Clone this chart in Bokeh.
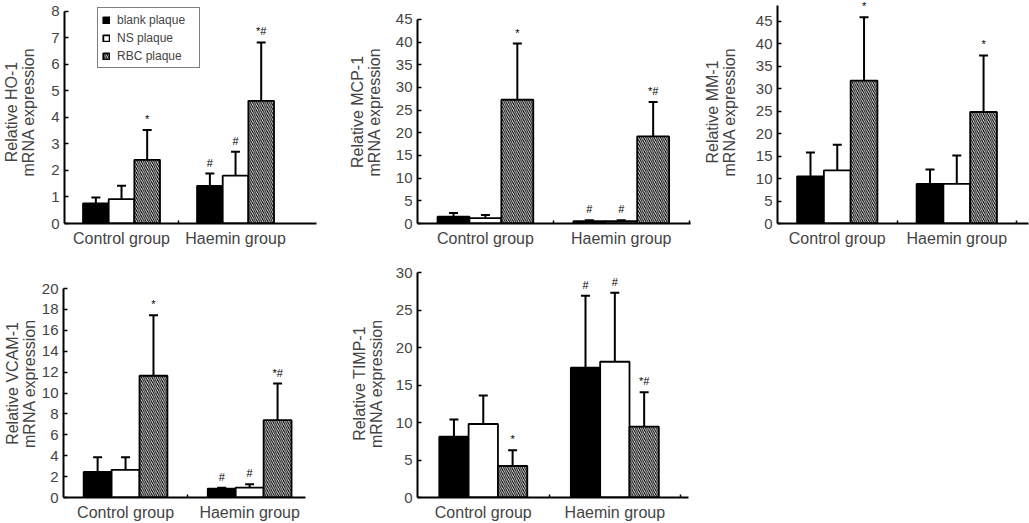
from bokeh.plotting import figure
from bokeh.layouts import column, row
from bokeh.models import (ColumnDataSource, Range1d, FixedTicker, Whisker, TeeHead,
                          Legend, LegendItem, Label)
from bokeh.core.properties import value
from bokeh.embed import file_html
from bokeh.resources import INLINE

# ---------------- data ----------------
groups = ["Control group", "Haemin group"]
series = ["blank plaque", "NS plaque", "RBC plaque"]

# A: HO-1
ho1_blank = [0.76, 1.42]
ho1_blank_sd = [0.22, 0.46]
ho1_ns = [0.92, 1.80]
ho1_ns_sd = [0.50, 0.90]
ho1_rbc = [2.40, 4.62]
ho1_rbc_sd = [1.12, 2.20]
ho1_marks = ["", "", "*", "#", "#", "*#"]

# B: MCP-1
mcp1_blank = [1.5, 0.5]
mcp1_blank_sd = [0.8, 0.2]
mcp1_ns = [1.2, 0.5]
mcp1_ns_sd = [0.7, 0.2]
mcp1_rbc = [27.3, 19.2]
mcp1_rbc_sd = [12.4, 7.6]
mcp1_marks = ["", "", "*", "#", "#", "*#"]

# C: MM-1
mm1_blank = [10.5, 8.8]
mm1_blank_sd = [5.3, 3.2]
mm1_ns = [11.8, 8.8]
mm1_ns_sd = [5.7, 6.3]
mm1_rbc = [31.8, 24.8]
mm1_rbc_sd = [14.1, 12.6]
mm1_marks = ["", "", "*", "", "", "*"]

# D: VCAM-1
vcam1_blank = [2.45, 0.85]
vcam1_blank_sd = [1.40, 0.08]
vcam1_ns = [2.65, 0.95]
vcam1_ns_sd = [1.20, 0.32]
vcam1_rbc = [11.65, 7.40]
vcam1_rbc_sd = [5.80, 3.50]
vcam1_marks = ["", "", "*", "#", "#", "*#"]

# E: TIMP-1
timp1_blank = [8.1, 17.3]
timp1_blank_sd = [2.3, 9.6]
timp1_ns = [9.8, 18.1]
timp1_ns_sd = [3.8, 9.2]
timp1_rbc = [4.2, 9.45]
timp1_rbc_sd = [2.1, 4.6]
timp1_marks = ["", "", "*", "#", "#", "*#"]

FONT = "Liberation Sans"


def make_panel(letter, ylabel, means, sds, marks, yend, ytop, ystep, xmax, minor,
               W, H, bl, br, bt, bb, bw, als, legend=False, letter_dx=-54):
    p = figure(width=W, height=H, x_range=Range1d(0.5, xmax), y_range=Range1d(0, yend),
               output_backend="svg", toolbar_location=None, title=None,
               min_border_left=bl, min_border_right=br, min_border_top=bt,
               min_border_bottom=bb)
    p.outline_line_color = None
    p.xgrid.visible = False
    p.ygrid.visible = False

    fills = ["black", "white", "white"]
    hatches = [None, None, "left_diagonal_line"]
    renderers = []
    wx, wl, wu = [], [], []
    for i, s in enumerate(series):
        xs = [g + 1 + (i - 1) * bw for g in range(len(groups))]
        src = ColumnDataSource(dict(x=xs, top=means[i]))
        kw = {}
        if hatches[i]:
            kw = dict(hatch_pattern=hatches[i], hatch_color="black",
                      hatch_scale=4.2, hatch_weight=1.1)
        r = p.vbar(x="x", top="top", width=bw, bottom=0, source=src,
                   fill_color=fills[i], line_color="black", line_width=1.8, **kw)
        renderers.append(r)
        for g in range(len(groups)):
            wx.append(xs[g])
            wl.append(means[i][g])
            wu.append(means[i][g] + sds[i][g])
    order_x, order_u = [], []
    for g in range(len(groups)):
        for i in range(len(series)):
            order_x.append(g + 1 + (i - 1) * bw)
            order_u.append(means[i][g] + sds[i][g])

    wsrc = ColumnDataSource(dict(x=wx, lower=wl, upper=wu))
    wh = Whisker(base="x", lower="lower", upper="upper", source=wsrc, dimension="height",
                 line_width=2, line_color="black", lower_head=None,
                 upper_head=TeeHead(size=9, line_width=2, line_color="black"),
                 level="annotation")
    p.add_layout(wh)

    msrc = ColumnDataSource(dict(x=order_x, y=order_u, t=marks))
    p.text(x="x", y="y", text="t", source=msrc, text_font=value(FONT),
           text_font_size="11px", text_align="center", text_baseline="bottom",
           y_offset=-5, text_color="black")

    yt = [v for v in range(0, int(ytop) + 1, ystep)]
    p.yaxis.ticker = FixedTicker(ticks=yt)
    p.yaxis.bounds = (0, ytop)
    p.yaxis.major_tick_in = 4
    p.yaxis.major_tick_out = 0
    p.yaxis.minor_tick_in = 0
    p.yaxis.minor_tick_out = 0
    p.yaxis.major_tick_line_width = 1.5
    p.yaxis.axis_line_width = 2
    p.yaxis.major_label_text_font = FONT
    p.yaxis.major_label_text_font_size = "15px"
    p.yaxis.major_label_standoff = 5
    p.yaxis.axis_label = ylabel
    p.yaxis.axis_label_text_font = FONT
    p.yaxis.axis_label_text_font_size = "16px"
    p.yaxis.axis_label_text_font_style = "normal"
    p.yaxis.axis_label_standoff = als
    p.yaxis.axis_label_text_line_height = 1.0

    p.xaxis.ticker = FixedTicker(ticks=[1, 2], minor_ticks=minor)
    p.xaxis.major_label_overrides = {g + 1: name for g, name in enumerate(groups)}
    p.xaxis.major_tick_in = 0
    p.xaxis.major_tick_out = 0
    p.xaxis.minor_tick_in = 3
    p.xaxis.minor_tick_out = 0
    p.xaxis.minor_tick_line_width = 1.5
    p.xaxis.axis_line_width = 2
    p.xaxis.major_label_text_font = FONT
    p.xaxis.major_label_text_font_size = "16px"
    p.xaxis.major_label_standoff = 6

    p.add_layout(Label(x=0.5, y=0, x_units="data", y_units="data", x_offset=letter_dx,
                       y_offset=-7, text=letter, text_font=FONT, text_font_size="15px",
                       text_baseline="top", text_align="left"))

    if legend:
        lg = Legend(items=[LegendItem(label=s, renderers=[r]) for s, r in zip(series, renderers)],
                    location=(33, 155), glyph_width=8, glyph_height=8,
                    label_text_font=FONT, label_text_font_size="12px",
                    label_height=15, label_width=78, label_standoff=7,
                    spacing=3, padding=4, margin=0,
                    border_line_color="black", border_line_width=1,
                    background_fill_color="white", background_fill_alpha=1)
        p.add_layout(lg)
    return p


# top row: height 249, frames span y = 0 .. 223 (borders are shared within a row)
pA = make_panel("A", "Relative HO-1\nmRNA expression",
                [ho1_blank, ho1_ns, ho1_rbc], [ho1_blank_sd, ho1_ns_sd, ho1_rbc_sd], ho1_marks,
                8.40, 8, 1, 2.71, [1.5], 340, 249, 59, 24, 0, 26, 0.225, 11, legend=True,
                letter_dx=-54)
pB = make_panel("B", "Relative MCP-1\nmRNA expression",
                [mcp1_blank, mcp1_ns, mcp1_rbc], [mcp1_blank_sd, mcp1_ns_sd, mcp1_rbc_sd],
                mcp1_marks, 49.19, 45, 5, 2.51, [1.5, 2.5], 360, 249, 77, 10, 0, 26, 0.235, 10,
                letter_dx=-60)
pC = make_panel("C", "Relative MM-1\nmRNA expression",
                [mm1_blank, mm1_ns, mm1_rbc], [mm1_blank_sd, mm1_ns_sd, mm1_rbc_sd],
                mm1_marks, 49.61, 48.5, 5, 2.6, [1.5, 2.5], 329, 249, 77, 1, 0, 26, 0.224, 15,
                letter_dx=-62)
# bottom row: height 274, frames span y = 269 .. 497
pD = make_panel("D", "Relative VCAM-1\nmRNA expression",
                [vcam1_blank, vcam1_ns, vcam1_rbc], [vcam1_blank_sd, vcam1_ns_sd, vcam1_rbc_sd],
                vcam1_marks, 21.82, 20, 2, 2.45, [1.5, 2.5], 340, 274, 59, 35, 20, 26, 0.225, 1,
                letter_dx=-54)
pE = make_panel("E", "Relative TIMP-1\nmRNA expression",
                [timp1_blank, timp1_ns, timp1_rbc], [timp1_blank_sd, timp1_ns_sd, timp1_rbc_sd],
                timp1_marks, 30.4, 30, 5, 2.56, [1.5, 2.5], 360, 274, 77, 12, 20, 26, 0.223, 8,
                letter_dx=-60)

layout = column(row(pA, pB, pC, spacing=0), row(pD, pE, spacing=0), spacing=0)

open("out.html", "w").write(file_html(layout, INLINE))
